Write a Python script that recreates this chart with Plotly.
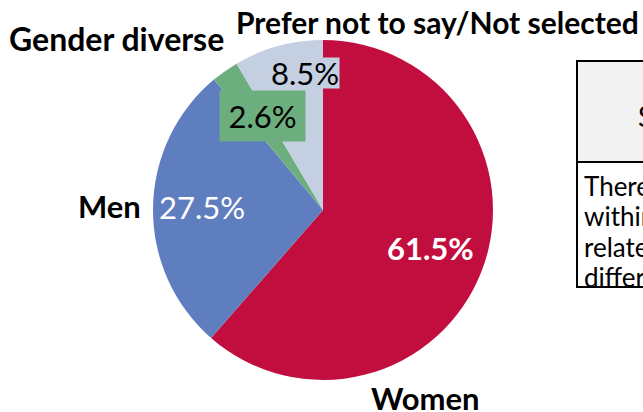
import plotly.graph_objects as go

# ---- data ----
categories = ["Women", "Men", "Gender diverse", "Prefer not to say/Not selected"]
percent = [61.5, 27.5, 2.6, 8.5]
colors = ["#C20E3F", "#5F7EC0", "#6DAE7E", "#C4CFE2"]

table_header = "Summary"
table_lines = ["There were no significant", "within gender groups",
               "related to the reported", "differences in outcomes"]

W, H = 643, 412
FONT = "Lato, 'Open Sans', sans-serif"

def px(x, y):
    return x / W, 1 - y / H

fig = go.Figure()
fig.add_trace(go.Pie(
    labels=categories, values=percent, sort=False, direction="clockwise",
    rotation=0, marker=dict(colors=colors, line=dict(width=0)),
    textinfo="none", hoverinfo="label+percent", showlegend=False,
    domain=dict(x=[153 / W, 493 / W], y=[1 - 380 / H, 1 - 40 / H]),
))

annotations = []
# category names (outside the pie)
name_pos = {
    "Women": (425, 398, "center", 31),
    "Men": (143, 206, "right", 31),
    "Gender diverse": (116, 39, "center", 32),
    "Prefer not to say/Not selected": (437, 22, "center", 30),
}
for c in categories:
    x, y, a, fs = name_pos[c]
    xp, yp = px(x, y)
    annotations.append(dict(x=xp, y=yp, xref="paper", yref="paper", text=f"<b>{c}</b>",
                            showarrow=False, xanchor=a, yanchor="middle",
                            font=dict(family=FONT, size=fs, color="black")))

# value labels
val_style = {
    "Women": dict(pos=(430, 248), color="white", bold=True, box=None),
    "Men": dict(pos=(202, 207), color="white", bold=False, box=None),
    "Gender diverse": dict(pos=(262, 116), color="black", bold=False, box=(75, 40, 5)),
    "Prefer not to say/Not selected": dict(pos=(305, 73), color="black", bold=False, box=(68, 30, 0)),
}
for i, (c, v) in enumerate(zip(categories, percent)):
    s = val_style[c]
    t = f"{v:.1f}%"
    if s["bold"]:
        t = f"<b>{t}</b>"
    xp, yp = px(*s["pos"])
    ann = dict(x=xp, y=yp, xref="paper", yref="paper", text=t, showarrow=False,
               xanchor="center", yanchor="middle",
               font=dict(family=FONT, size=31, color=s["color"]))
    if s["box"]:
        bw, bh, pad = s["box"]
        ann.update(bgcolor=colors[i], width=bw, height=bh, borderpad=pad)
    annotations.append(ann)

# table box (cut by the right edge)
shapes = []
x0, x1 = 577, 900
y0, ymid, y1 = 61, 162, 287
fx0, _ = px(x0, 0)
fx1, _ = px(x1, 0)
shapes.append(dict(type="rect", xref="paper", yref="paper", x0=fx0, x1=fx1,
                   y0=px(0, ymid)[1], y1=px(0, y0)[1], fillcolor="#F2F2F2",
                   line=dict(color="black", width=2)))
shapes.append(dict(type="rect", xref="paper", yref="paper", x0=fx0, x1=fx1,
                   y0=px(0, y1)[1], y1=px(0, ymid)[1], fillcolor="white",
                   line=dict(color="black", width=2)))
hx, hy = px(636, 116)
annotations.append(dict(x=hx, y=hy, xref="paper", yref="paper", text=table_header,
                        showarrow=False, xanchor="left", yanchor="middle",
                        font=dict(family=FONT, size=28, color="black")))
for i, line in enumerate(table_lines):
    lx, ly = px(582, 186 + i * 30.3)
    annotations.append(dict(x=lx, y=ly, xref="paper", yref="paper", text=line,
                            showarrow=False, xanchor="left", yanchor="middle",
                            font=dict(family=FONT, size=26, color="black")))

fig.update_layout(width=W, height=H, margin=dict(l=0, r=0, t=0, b=0),
                  paper_bgcolor="white", plot_bgcolor="white",
                  annotations=annotations, shapes=shapes)
fig.write_html("out.html", config={"displayModeBar": False},
               post_script="document.body.style.margin='0';")
